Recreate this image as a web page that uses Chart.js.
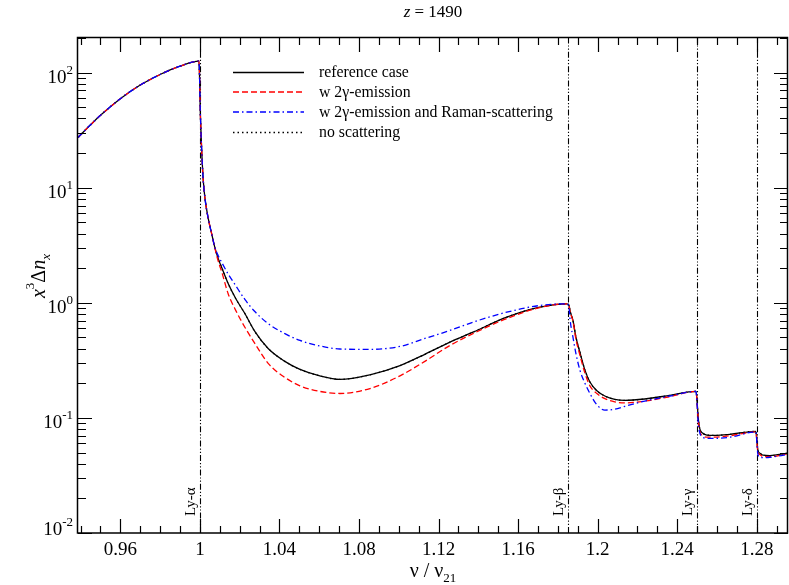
<!DOCTYPE html>
<html>
<head>
<meta charset="utf-8">
<script src="https://cdn.jsdelivr.net/npm/chart.js@4/dist/chart.umd.min.js"></script>
<style>
html,body{margin:0;padding:0;background:#fff;}
#wrap{width:789px;height:585px;position:relative;}
</style>
</head>
<body>
<div id="wrap"><canvas id="c" width="789" height="585"></canvas></div>
<script>
// ---- data ----
const freqValues = [
  0.9387, 0.945, 0.95, 0.96, 0.97, 0.98, 0.99, 0.9995,
  1.0003, 1.0009, 1.0017, 1.0025, 1.0042, 1.0059, 1.0075, 1.0092, 1.011, 1.0142, 1.018, 1.0226,
  1.0276, 1.0343, 1.0427, 1.0503, 1.0603, 1.0704, 1.0855, 1.1006, 1.1131, 1.1257, 1.1373, 1.1543,
  1.1709, 1.1845, 1.1856, 1.1861, 1.1876, 1.1891, 1.1911, 1.1936, 1.1961, 1.1996, 1.2036, 1.2086,
  1.2136, 1.2237, 1.2363, 1.2494, 1.2507, 1.2514, 1.2529, 1.2549, 1.2589, 1.2665, 1.2795, 1.2806,
  1.2816, 1.2831, 1.2866, 1.2952
];
const referenceCase = [
  27.3, 35.2, 42.6, 59.4, 78.0, 96.4, 113.8, 125.9,
  40, 21, 11.5, 8.2, 5.38, 3.99, 3.03, 2.42, 2.02, 1.47, 1.09, 0.807,
  0.564, 0.401, 0.310, 0.264, 0.232, 0.216, 0.237, 0.285, 0.357, 0.455, 0.556, 0.750,
  0.916, 0.98, 0.95, 0.85, 0.70, 0.50, 0.37, 0.26, 0.205, 0.172, 0.155, 0.145,
  0.142, 0.146, 0.157, 0.170, 0.095, 0.080, 0.0735, 0.071, 0.0705, 0.072, 0.0765, 0.052,
  0.0493, 0.0474, 0.047, 0.0493
];
const twoPhotonEmission = [
  27.3, 35.2, 42.6, 59.4, 78.0, 96.4, 113.8, 125.9,
  40, 21, 11.5, 8.2, 5.38, 3.99, 3.0, 2.3, 1.85, 1.2, 0.86, 0.614,
  0.444, 0.298, 0.225, 0.190, 0.170, 0.163, 0.180, 0.232, 0.31, 0.426, 0.54, 0.73,
  0.91, 0.98, 0.94, 0.84, 0.69, 0.48, 0.35, 0.245, 0.19, 0.163, 0.147, 0.138,
  0.135, 0.140, 0.153, 0.170, 0.09, 0.076, 0.070, 0.068, 0.068, 0.070, 0.0755, 0.050,
  0.048, 0.046, 0.046, 0.0487
];
const ramanScattering = [
  27.3, 35.2, 42.6, 59.4, 78.0, 96.4, 113.8, 125.9,
  40, 21, 11.5, 8.2, 5.38, 3.99, 3.05, 2.57, 2.24, 1.78, 1.41, 1.07,
  0.84, 0.66, 0.54, 0.471, 0.422, 0.397, 0.394, 0.418, 0.49, 0.575, 0.679, 0.829,
  0.948, 0.98, 0.90, 0.72, 0.50, 0.36, 0.259, 0.20, 0.163, 0.13, 0.117, 0.119,
  0.126, 0.140, 0.155, 0.170, 0.085, 0.0735, 0.068, 0.0665, 0.0665, 0.068, 0.0755, 0.048,
  0.0455, 0.0452, 0.0455, 0.048
];
const noScattering = [
  27.3, 35.2, 42.6, 59.4, 78.0, 96.4, 113.8, 125.9,
  40, 21, 11.5, 8.2, 5.38, 3.99, 3.03, 2.42, 2.02, 1.47, 1.09, 0.807,
  0.564, 0.401, 0.310, 0.264, 0.232, 0.216, 0.237, 0.285, 0.357, 0.455, 0.556, 0.750,
  0.916, 0.98, 0.95, 0.85, 0.70, 0.50, 0.37, 0.26, 0.205, 0.172, 0.155, 0.145,
  0.142, 0.146, 0.157, 0.170, 0.095, 0.080, 0.0735, 0.071, 0.0705, 0.072, 0.0765, 0.052,
  0.0493, 0.0474, 0.047, 0.0493
];
const seriesNames = ['reference case', 'w 2\u03b3-emission', 'w 2\u03b3-emission and Raman-scattering', 'no scattering'];
const xMajorTicks = [0.96, 1, 1.04, 1.08, 1.12, 1.16, 1.2, 1.24, 1.28];
const xTickLabels = ['0.96', '1', '1.04', '1.08', '1.12', '1.16', '1.2', '1.24', '1.28'];
const xMinorTicks = [0.94, 0.95, 0.97, 0.98, 0.99, 1.01, 1.02, 1.03, 1.05, 1.06, 1.07, 1.09, 1.10, 1.11, 1.13, 1.14, 1.15, 1.17, 1.18, 1.19, 1.21, 1.22, 1.23, 1.25, 1.26, 1.27, 1.29];
const yExponents = [-2, -1, 0, 1, 2];
const lymanPositions = [1.0, 1.18519, 1.25, 1.28];
const lymanLabels = ['Ly-\u03b1', 'Ly-\u03b2', 'Ly-\u03b3', 'Ly-\u03b4'];
const chartTitle = ['z', ' = 1490'];

const SERIF = '"Liberation Serif", "DejaVu Serif", serif';
const colors = ['#000000', '#ff0000', '#0000ff', '#000000'];
const dashes = [[], [6, 3], [6, 3, 1.5, 3], [1.5, 3]];

function pts(arr) { return freqValues.map((x, i) => ({ x: x, y: arr[i] })); }

function drawParts(ctx, parts, x, y, align) {
  let w = 0;
  parts.forEach(p => { ctx.font = p.font; p.w = ctx.measureText(p.t).width; w += p.w; });
  let cx = align === 'center' ? x - w / 2 : (align === 'right' ? x - w : x);
  ctx.textAlign = 'left';
  ctx.textBaseline = 'alphabetic';
  parts.forEach(p => { ctx.font = p.font; ctx.fillText(p.t, cx, y + (p.dy || 0)); cx += p.w; });
}

const decor = {
  id: 'decor',
  beforeDatasetsDraw(chart) {
    const ctx = chart.ctx, a = chart.chartArea, xs = chart.scales.x;
    ctx.save();
    ctx.strokeStyle = '#000';
    ctx.lineWidth = 1.1;
    ctx.setLineDash([6, 2, 1.2, 2, 1.2, 2]);
    lymanPositions.forEach(v => {
      const px = Math.round(xs.getPixelForValue(v)) + 0.5;
      ctx.beginPath(); ctx.moveTo(px, a.bottom); ctx.lineTo(px, a.top); ctx.stroke();
    });
    ctx.setLineDash([]);
    ctx.fillStyle = '#000';
    ctx.font = '15px ' + SERIF;
    lymanLabels.forEach((t, i) => {
      const px = xs.getPixelForValue(lymanPositions[i]);
      ctx.save();
      ctx.translate(px - 5, a.bottom - 17);
      ctx.rotate(-Math.PI / 2);
      ctx.textAlign = 'left'; ctx.textBaseline = 'alphabetic';
      ctx.fillText(t, 0, 0);
      ctx.restore();
    });
    ctx.restore();
  },
  afterDraw(chart) {
    const ctx = chart.ctx, a = chart.chartArea, xs = chart.scales.x, ys = chart.scales.y;
    ctx.save();
    ctx.strokeStyle = '#000';
    ctx.fillStyle = '#000';
    ctx.lineWidth = 1.5;
    ctx.setLineDash([]);
    // frame
    ctx.strokeRect(a.left - 0.5, a.top - 0.5, a.right - a.left, a.bottom - a.top + 0.5);
    // x ticks
    ctx.lineWidth = 1.2;
    const tickX = (v, len) => {
      const px = Math.round(xs.getPixelForValue(v)) + 0.5;
      ctx.beginPath(); ctx.moveTo(px, a.bottom); ctx.lineTo(px, a.bottom - len);
      ctx.moveTo(px, a.top); ctx.lineTo(px, a.top + len); ctx.stroke();
    };
    xMajorTicks.forEach(v => tickX(v, 14));
    xMinorTicks.forEach(v => tickX(v, 7));
    // y ticks
    const tickY = (v, len) => {
      const py = Math.round(ys.getPixelForValue(v)) + 0.5;
      ctx.beginPath(); ctx.moveTo(a.left, py); ctx.lineTo(a.left + len, py);
      ctx.moveTo(a.right, py); ctx.lineTo(a.right - len, py); ctx.stroke();
    };
    yExponents.forEach(e => {
      tickY(Math.pow(10, e), 14);
      if (e < 2) for (let m = 2; m <= 9; m++) tickY(m * Math.pow(10, e), 8);
    });
    tickY(200, 8);
    // x labels
    ctx.font = '19px ' + SERIF;
    ctx.textAlign = 'center'; ctx.textBaseline = 'alphabetic';
    xMajorTicks.forEach((v, i) => ctx.fillText(xTickLabels[i], xs.getPixelForValue(v), 555));
    // y labels
    yExponents.forEach(e => {
      const py = ys.getPixelForValue(Math.pow(10, e));
      const base = e === -2 ? py + 2 : py + 10.5;
      drawParts(ctx, [
        { t: '10', font: '19px ' + SERIF },
        { t: String(e), font: '13px ' + SERIF, dy: -9 }
      ], 73, base, 'right');
    });
    // title
    drawParts(ctx, [
      { t: chartTitle[0], font: 'italic 17px ' + SERIF },
      { t: chartTitle[1], font: '17px ' + SERIF }
    ], (a.left + a.right) / 2, 17, 'center');
    // x axis title
    drawParts(ctx, [
      { t: '\u03bd / \u03bd', font: '20px ' + SERIF },
      { t: '21', font: '13px ' + SERIF, dy: 5 }
    ], (a.left + a.right) / 2, 577, 'center');
    // y axis title
    ctx.save();
    ctx.translate(45, 276);
    ctx.rotate(-Math.PI / 2);
    drawParts(ctx, [
      { t: 'x', font: 'italic 20px ' + SERIF },
      { t: '3', font: '13px ' + SERIF, dy: -11 },
      { t: '\u0394', font: '20px ' + SERIF },
      { t: 'n', font: 'italic 20px ' + SERIF },
      { t: 'x', font: 'italic 13px ' + SERIF, dy: 5 }
    ], 0, 0, 'center');
    ctx.restore();
    // legend
    const rows = [72, 91.5, 111.5, 132];
    seriesNames.forEach((name, i) => {
      ctx.strokeStyle = colors[i];
      ctx.lineWidth = 1.3;
      ctx.setLineDash(dashes[i]);
      ctx.beginPath(); ctx.moveTo(233, rows[i] + 0.5); ctx.lineTo(304, rows[i] + 0.5); ctx.stroke();
      ctx.setLineDash([]);
      ctx.fillStyle = '#000';
      ctx.font = '15.8px ' + SERIF;
      ctx.textAlign = 'left'; ctx.textBaseline = 'alphabetic';
      ctx.fillText(name, 319, rows[i] + 5);
    });
    ctx.restore();
  }
};

const ds = (label, arr, i, order) => ({
  label: label,
  data: pts(arr),
  borderColor: colors[i],
  borderWidth: 1.3,
  borderDash: dashes[i],
  pointRadius: 0,
  fill: false,
  cubicInterpolationMode: 'monotone',
  order: order
});

new Chart(document.getElementById('c'), {
  type: 'line',
  data: {
    datasets: [
      ds(seriesNames[0], referenceCase, 0, 3),
      ds(seriesNames[1], twoPhotonEmission, 1, 2),
      ds(seriesNames[2], ramanScattering, 2, 1),
      ds(seriesNames[3], noScattering, 3, 4)
    ]
  },
  options: {
    responsive: false,
    animation: false,
    devicePixelRatio: 1,
    layout: { padding: { left: 78, right: 1, top: 38, bottom: 52 } },
    plugins: { legend: { display: false }, tooltip: { enabled: false }, title: { display: false } },
    scales: {
      x: { type: 'linear', min: 0.9387, max: 1.2957, display: false },
      y: { type: 'logarithmic', min: 0.01, max: 200, display: false }
    }
  },
  plugins: [decor]
});
</script>
</body>
</html>
